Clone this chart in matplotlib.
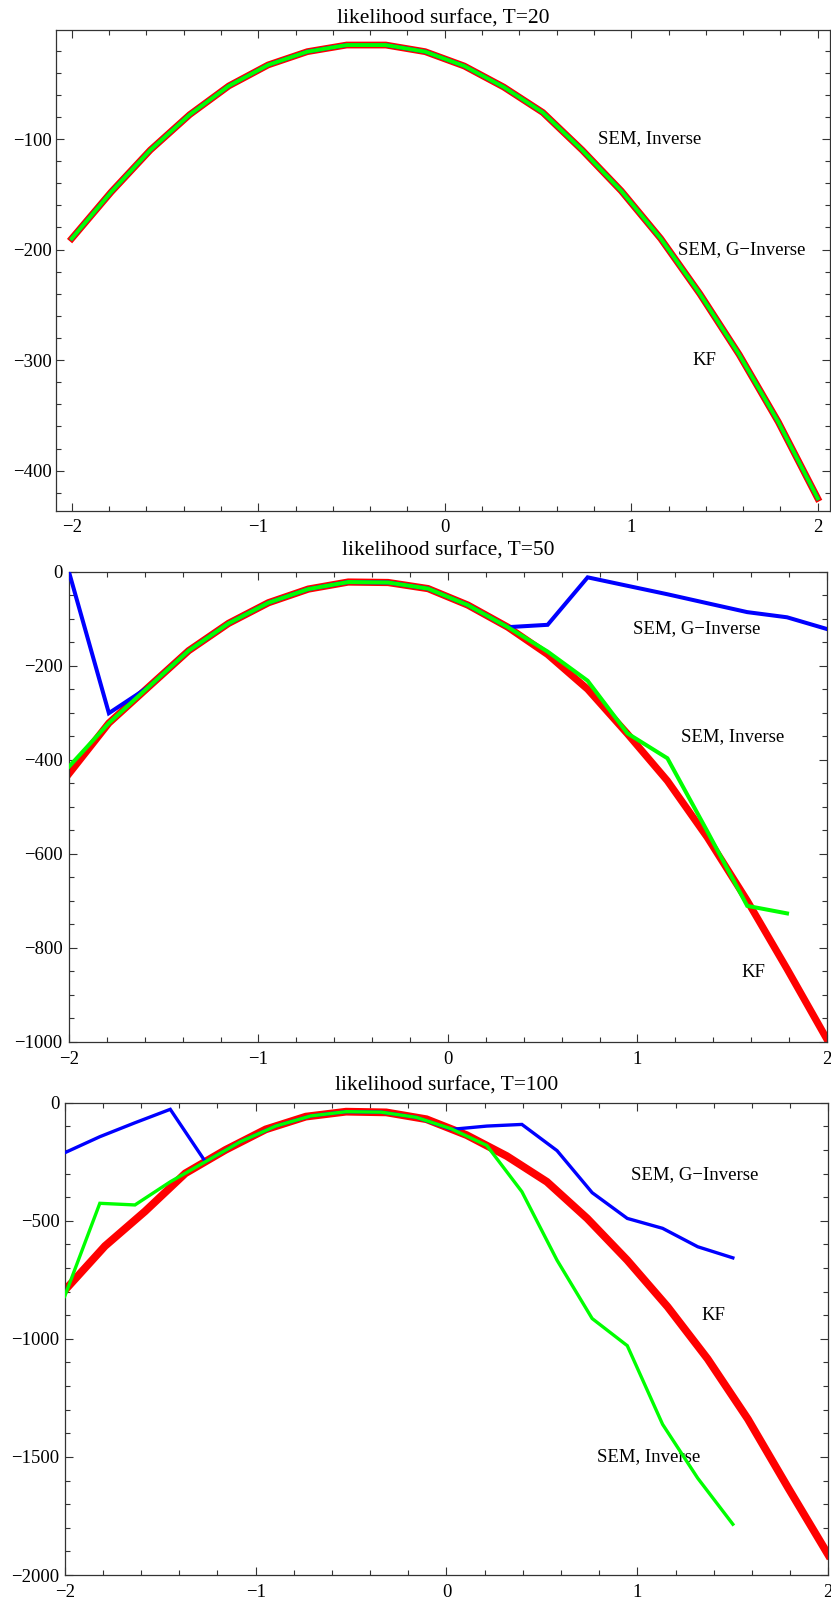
import numpy as np
import matplotlib
matplotlib.use("Agg")
import matplotlib.pyplot as plt
from matplotlib.ticker import MultipleLocator

plt.rcParams['font.family'] = ['Liberation Serif', 'DejaVu Serif']

# grid of the parameter, 20 points from -2 to 2
x_grid = [-2.0, -1.789, -1.579, -1.368, -1.158, -0.947, -0.737, -0.526, -0.316, -0.105,
          0.105, 0.316, 0.526, 0.737, 0.947, 1.158, 1.368, 1.579, 1.789, 2.0]
# grid used by SEM at T=100 (from -2 to 1.5)
x_sem100 = [-2.0, -1.816, -1.632, -1.447, -1.263, -1.079, -0.895, -0.711, -0.526, -0.342,
            -0.158, 0.026, 0.211, 0.395, 0.579, 0.763, 0.947, 1.132, 1.316, 1.5]

# T=20 : all three curves coincide
kf20 = [-190, -148, -110, -78, -52, -33, -21, -15, -15, -21,
        -34, -53, -76, -110, -147, -190, -240, -295, -356, -425]
inv20 = list(kf20)
ginv20 = list(kf20)

# T=50
kf50 = [-430, -322, -245, -168, -110, -66, -37, -22, -23, -36,
        -71, -118, -176, -250, -345, -445, -565, -700, -845, -995]
inv50 = [-415, -322, -245, -168, -110, -66, -37, -22, -23, -36,
         -71, -118, -170, -232, -344, -397, -552, -711, -727]
ginv50 = [0, -301, -245, -168, -110, -66, -37, -22, -23, -36,
          -71, -118, -113, -12, -30, -48, -67, -86, -97, -122]

# T=100
kf100 = [-795, -607, -460, -299, -200, -113, -59, -38, -41, -70,
         -137, -226, -335, -490, -667, -864, -1085, -1340, -1630, -1915]
inv100 = [-820, -426, -433, -335, -250, -165, -99, -56, -38, -40,
          -62, -111, -181, -377, -667, -914, -1029, -1362, -1590, -1785]
ginv100 = [-212, -144, -85, -28, -250, -165, -99, -56, -38, -40,
           -62, -113, -99, -92, -203, -381, -490, -532, -610, -657]

W, H = 831, 1601
fig = plt.figure(figsize=(W / 100, H / 100), dpi=100)


def make_axes(left, top, right, bottom):
    return fig.add_axes([left / W, 1 - bottom / H, (right - left) / W, (bottom - top) / H])


def style(ax, title, ymajor, yminor, xpad, ypad, tpad):
    ax.set_title(title, fontsize=15.5, pad=tpad)
    ax.xaxis.set_major_locator(MultipleLocator(1))
    ax.xaxis.set_minor_locator(MultipleLocator(0.2))
    ax.yaxis.set_major_locator(MultipleLocator(ymajor))
    ax.yaxis.set_minor_locator(MultipleLocator(yminor))
    ax.tick_params(which='both', direction='in', top=True, right=True, width=0.8, color='#333333')
    ax.tick_params(which='major', length=5.5, labelsize=13.5)
    ax.tick_params(axis='x', which='major', pad=xpad)
    ax.tick_params(axis='y', which='major', pad=ypad)
    ax.tick_params(which='minor', length=3.3)
    for sp in ax.spines.values():
        sp.set_linewidth(0.9)
        sp.set_color('#333333')


def curves(ax, xk, yk, xi, yi, xg, yg, wr, wg):
    ax.plot(xk, yk, color='#FF0000', lw=wr, solid_capstyle='projecting', solid_joinstyle='miter', zorder=2)
    ax.plot(xg, yg, color='#0000FF', lw=wg, solid_capstyle='projecting', solid_joinstyle='miter', zorder=3)
    ax.plot(xi, yi, color='#00FF00', lw=wg, solid_capstyle='projecting', solid_joinstyle='miter', zorder=4)


lab = dict(fontsize=13.5, ha='center', va='center')

# panel 1
ax1 = make_axes(56.3, 30, 830, 510.7)
curves(ax1, x_grid, kf20, x_grid, inv20, x_grid, ginv20, 4.9, 2.8)
ax1.set_xlim(-2.083, 2.066)
ax1.set_ylim(-436.2, -1.4)
style(ax1, 'likelihood surface, T=20', 100, 20, 6, 3.3, 5)
ax1.text(1.10, -100, 'SEM, Inverse', **lab)
ax1.text(1.59, -200, 'SEM, G\u2212Inverse', **lab)
ax1.text(1.39, -300, 'KF', **lab)

# panel 2
ax2 = make_axes(68.9, 571.7, 827, 1041.7)
curves(ax2, x_grid, kf50, x_grid[:len(inv50)], inv50, x_grid, ginv50, 5.2, 2.9)
ax2.set_xlim(-2, 2)
ax2.set_ylim(-1000, 0)
style(ax2, 'likelihood surface, T=50', 200, 50, 6.5, 4.5, 11.5)
ax2.text(1.31, -122, 'SEM, G\u2212Inverse', **lab)
ax2.text(1.50, -350, 'SEM, Inverse', **lab)
ax2.text(1.61, -852, 'KF', **lab)

# panel 3
ax3 = make_axes(64.7, 1102.7, 828.3, 1575)
curves(ax3, x_grid, kf100, x_sem100, inv100, x_sem100, ginv100, 5.6, 2.4)
ax3.set_xlim(-2, 2)
ax3.set_ylim(-2000, 0)
style(ax3, 'likelihood surface, T=100', 500, 100, 6.5, 3.6, 9)
ax3.text(1.30, -305, 'SEM, G\u2212Inverse', **lab)
ax3.text(1.40, -902, 'KF', **lab)
ax3.text(1.06, -1500, 'SEM, Inverse', **lab)

fig.savefig('out.png', dpi=100)
